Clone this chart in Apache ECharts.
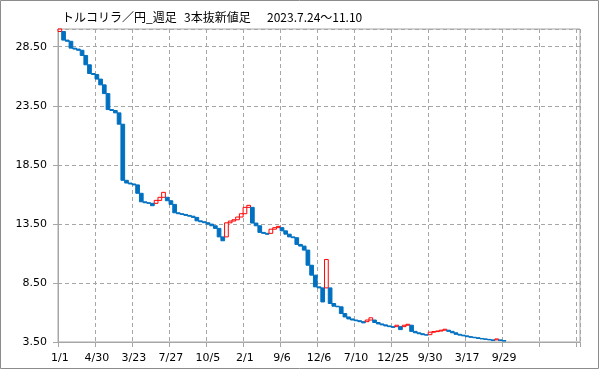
<!DOCTYPE html>
<html><head><meta charset="utf-8">
<script src="https://cdn.jsdelivr.net/npm/echarts@6/dist/echarts.min.js"></script>
<style>html,body{margin:0;padding:0;background:#fff}#c{width:599px;height:369px}</style>
</head><body><div id="c"></div>
<script>
const titlePair = 'トルコリラ／円_週足';
const titleKind = '3本抜新値足';
const titlePeriod = '2023.7.24～11.10';
const tickLabels = ['1/1','4/30','3/23','7/27','10/5','2/1','9/6','12/6','7/10','12/25','9/30','3/17','9/29','',''];
const slotCount = 141;
const labelEvery = 10;
const yMin = 3.5, yMax = 30, yStep = 5;

const opens = [
 29.79,29.79,29.06,28.96,28.38,28.30,28.20,27.76,26.97,26.23,
 26.15,25.76,25.27,24.53,23.18,23.10,22.90,21.94,17.19,16.96,
 16.88,16.80,16.09,15.37,15.29,15.24,15.24,15.49,15.75,15.75,
 15.46,15.15,14.44,14.36,14.30,14.22,14.15,14.05,13.76,13.68,
 13.60,13.48,13.34,13.12,12.40,12.40,13.59,13.74,13.85,14.08,
 14.36,14.90,14.90,13.57,13.34,12.78,12.70,12.70,13.05,13.18,
 13.18,12.91,12.63,12.40,12.33,11.76,11.62,11.28,10.00,9.16,
 8.17,8.08,8.08,8.08,6.76,6.53,6.48,5.91,5.62,5.45,
 5.36,5.30,5.22,5.22,5.36,5.36,5.15,5.03,4.95,4.86,
 4.80,4.80,4.80,4.80,4.92,4.92,4.40,4.28,4.20,4.12,
 4.12,4.33,4.38,4.43,4.50,4.50,4.40,4.28,4.15,4.08,
 4.02,3.95,3.90,3.86,3.80,3.76,3.72,3.68,3.68,3.68,
 3.62
];
const closes = [
 30.00,29.06,28.96,28.38,28.30,28.20,27.76,26.97,26.23,26.15,
 25.76,25.27,24.53,23.18,23.10,22.90,21.94,17.19,16.96,16.88,
 16.80,16.09,15.37,15.29,15.24,15.04,15.49,15.75,16.17,15.46,
 15.15,14.44,14.36,14.30,14.22,14.15,14.05,13.76,13.68,13.60,
 13.48,13.34,13.12,12.40,12.07,13.59,13.74,13.85,14.08,14.36,
 14.90,15.07,13.57,13.34,12.78,12.70,12.62,13.05,13.18,13.29,
 12.91,12.63,12.40,12.33,11.76,11.62,11.28,10.00,9.16,8.17,
 8.08,6.89,10.49,6.76,6.53,6.48,5.91,5.62,5.45,5.36,
 5.30,5.22,5.12,5.36,5.55,5.15,5.03,4.95,4.86,4.80,
 4.74,4.92,4.55,4.92,5.00,4.40,4.28,4.20,4.12,4.08,
 4.33,4.38,4.43,4.50,4.58,4.40,4.28,4.15,4.08,4.02,
 3.95,3.90,3.86,3.80,3.76,3.72,3.68,3.62,3.76,3.62,
 3.58
];

const categories = [];
for (let i = 0; i < slotCount; i++) {
  categories.push(i % labelEvery === 0 ? (tickLabels[i / labelEvery] || '') : '');
}
const brickData = opens.map((o, i) => [i, o, closes[i]]);

const upStyle = {fill: '#ffffff', stroke: '#ff0000', lineWidth: 1};
const downStyle = {fill: '#0070c0', stroke: '#0070c0', lineWidth: 1};
const titleStyle = {fontSize: 12, fontFamily: 'Noto Sans CJK JP', fill: '#000', align: 'left', verticalAlign: 'middle'};

const gridColor = '#a6a6a6';
const chart = echarts.init(document.getElementById('c'), null, {renderer: 'canvas'});
chart.setOption({
  animation: false,
  backgroundColor: '#ffffff',
  textStyle: {fontFamily: 'DejaVu Sans'},
  graphic: [
    {type: 'rect', shape: {x: 0.5, y: 0.5, width: 598, height: 368}, style: {fill: 'none', stroke: '#8c8c8c', lineWidth: 1}, silent: true},
    {type: 'text', x: 62, y: 17, style: Object.assign({text: titlePair}, titleStyle)},
    {type: 'text', x: 184, y: 17, style: Object.assign({text: titleKind}, titleStyle)},
    {type: 'text', x: 267, y: 17, style: Object.assign({text: titlePeriod}, titleStyle)}
  ],
  grid: {left: 58, right: 19, top: 29, bottom: 27, show: true, borderColor: gridColor, borderWidth: 1, backgroundColor: 'transparent'},
  xAxis: {
    type: 'category',
    data: categories,
    boundaryGap: true,
    axisLine: {show: true, lineStyle: {color: gridColor}},
    axisTick: {show: true, interval: labelEvery - 1, length: 5, lineStyle: {color: gridColor}},
    axisLabel: {interval: labelEvery - 1, color: '#000', fontSize: 11, fontFamily: 'DejaVu Sans', margin: 11},
    splitLine: {show: true, interval: labelEvery - 1, lineStyle: {color: gridColor, type: [4, 3], width: 1}}
  },
  yAxis: {
    type: 'value',
    min: yMin, max: yMax, interval: yStep,
    axisLine: {show: true, lineStyle: {color: gridColor}},
    axisTick: {show: true, length: 5, lineStyle: {color: gridColor}},
    axisLabel: {color: '#000', fontSize: 11, fontFamily: 'DejaVu Sans', margin: 11, showMaxLabel: false,
      formatter: v => v.toFixed(2)},
    splitLine: {show: true, lineStyle: {color: gridColor, type: [4, 3], width: 1}}
  },
  series: [{
    type: 'custom',
    data: brickData,
    silent: true,
    encode: {x: 0, y: [1, 2]},
    renderItem: function (params, api) {
      const idx = api.value(0), o = api.value(1), c = api.value(2);
      const p1 = api.coord([idx, o]);
      const p2 = api.coord([idx, c]);
      const bw = api.size([1, 0])[0];
      const top = Math.min(p1[1], p2[1]);
      const h = Math.abs(p1[1] - p2[1]);
      return {
        type: 'rect',
        shape: {x: p1[0] - bw / 2, y: top, width: bw, height: h},
        style: c > o ? upStyle : downStyle
      };
    }
  }]
});
</script></body></html>
